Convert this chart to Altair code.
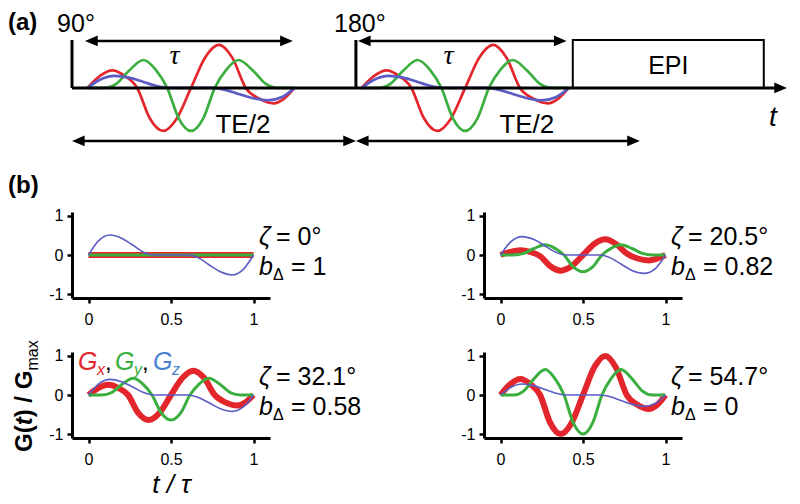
import altair as alt
import pandas as pd

SANS = "Liberation Sans"
SERIF = "Liberation Serif"
RED, GREEN, BLUE, BLUE_TXT = "#e3262b", "#3aae3f", "#5b5cc4", "#4a7fd3"

# ---------------- gradient waveforms, G(t)/Gmax versus t/tau ----------------
T_RED = [0.0, 0.06, 0.12, 0.18, 0.24, 0.30, 0.365, 0.43, 0.50, 0.57, 0.635, 0.70, 0.765, 0.83, 0.90, 0.95, 1.0]
T_GREEN = [0.0, 0.08, 0.14, 0.20, 0.27, 0.33, 0.385, 0.44, 0.50, 0.56, 0.615, 0.67, 0.73, 0.80, 0.86, 0.92, 1.0]
T_BLUE = [0.0, 0.06, 0.13, 0.20, 0.27, 0.33, 0.40, 0.50, 0.60, 0.67, 0.73, 0.80, 0.87, 0.94, 1.0]

# zeta = 0 deg
GX_0 = [0, 0, 0, 0, 0, 0, 0, 0, 0, 0, 0, 0, 0, 0, 0, 0, 0]
GY_0 = [0, 0, 0, 0, 0, 0, 0, 0, 0, 0, 0, 0, 0, 0, 0, 0, 0]
GZ_0 = [0, 0.36, 0.51, 0.43, 0.25, 0.08, 0.0, 0.0, 0.0, -0.08, -0.25, -0.43, -0.51, -0.36, 0]
# zeta = 20.5 deg
GX_205 = [0, 0.08, 0.12, 0.08, -0.03, -0.28, -0.40, -0.29, 0.0, 0.29, 0.40, 0.28, 0.04, -0.09, -0.14, -0.09, 0]
GY_205 = [0, 0.0, 0.04, 0.16, 0.26, 0.17, 0.0, -0.30, -0.43, -0.30, 0.0, 0.17, 0.26, 0.16, 0.04, 0.0, 0]
GZ_205 = [0, 0.33, 0.47, 0.40, 0.23, 0.08, 0.0, 0.0, 0.0, -0.08, -0.23, -0.40, -0.47, -0.34, 0]
# zeta = 32.1 deg
GX_321 = [0, 0.18, 0.26, 0.18, 0.0, -0.45, -0.64, -0.46, 0.0, 0.44, 0.62, 0.44, 0.0, -0.19, -0.27, -0.19, 0]
GY_321 = [0, 0.0, 0.06, 0.26, 0.43, 0.28, 0.0, -0.45, -0.64, -0.45, 0.0, 0.28, 0.43, 0.26, 0.06, 0.0, 0]
GZ_321 = [0, 0.28, 0.40, 0.34, 0.20, 0.07, 0.0, 0.0, 0.0, -0.07, -0.20, -0.35, -0.42, -0.30, 0]
# zeta = 54.7 deg (also the waveform drawn in panel a)
GX_547 = [0, 0.28, 0.41, 0.28, 0.0, -0.70, -1.0, -0.72, 0.0, 0.72, 1.0, 0.70, 0.0, -0.25, -0.36, -0.25, 0]
GY_547 = [0, 0.0, 0.10, 0.40, 0.65, 0.42, 0.0, -0.70, -1.0, -0.70, 0.0, 0.42, 0.65, 0.40, 0.10, 0.0, 0]
GZ_547 = [0, 0.19, 0.28, 0.24, 0.14, 0.05, 0.0, 0.0, 0.0, -0.05, -0.14, -0.24, -0.29, -0.21, 0]

ZETA_TEXT = ["0°", "20.5°", "32.1°", "54.7°"]
BDELTA_TEXT = ["1", "0.82", "0.58", "0"]
PANEL_WAVES = [(GX_0, GY_0, GZ_0), (GX_205, GY_205, GZ_205),
               (GX_321, GY_321, GZ_321), (GX_547, GY_547, GZ_547)]

SERIES = ["Gx", "Gy", "Gz"]
SERIES_T = [T_RED, T_GREEN, T_BLUE]
SERIES_COLOR = [RED, GREEN, BLUE]
SUB_WIDTH = [6, 3, 1.6]

# ---------------- sequence timing for panel (a), in units of tau ----------------
PULSE_T = [0.0, 1.372]
PULSE_LABEL = ["90°", "180°"]
GRAD_START = [0.075, 1.40]
EPI_T = [2.42, 3.343]
AXIS_END = 3.455
TE_HALF = PULSE_T[1] - PULSE_T[0]

# ---------------- helpers ----------------
def txt(s, x, y, size=24, style="normal", weight="normal", color="black",
        align="left", baseline="alphabetic", angle=0, font=SANS):
    return alt.Chart(pd.DataFrame({"s": [s]})).mark_text(
        align=align, baseline=baseline, fontSize=size, fontStyle=style,
        fontWeight=weight, color=color, font=font, angle=angle
    ).encode(x=alt.value(x), y=alt.value(y), text="s:N")


# ---------------- panel (a) ----------------
rows = []
for k, s in enumerate(GRAD_START):
    for name, T, V in zip(SERIES, SERIES_T, PANEL_WAVES[3]):
        for t, v in zip(T, V):
            rows.append({"x": s + t, "v": v, "series": name, "copy": k})
df_a = pd.DataFrame(rows)

XA = alt.Scale(domain=[0, 3.46], nice=False, zero=False)
YA = alt.Scale(domain=[-1.63, 1.86], nice=False, zero=False)

def ax(field):
    return alt.X(field, scale=XA, axis=None)

def ay(field):
    return alt.Y(field, scale=YA, axis=None)

Y_TOP = 1.116
Y_TAU = 1.093
Y_TE = -1.233

layers_a = []
for name, color in zip(SERIES, SERIES_COLOR):
    layers_a.append(
        alt.Chart(df_a[df_a.series == name]).mark_line(
            interpolate="monotone", strokeWidth=2.7, color=color
        ).encode(x=ax("x:Q"), y=ay("v:Q"), detail="copy:N")
    )

pulses = pd.DataFrame({"t": PULSE_T, "label": PULSE_LABEL, "y0": 0.0, "y1": Y_TOP, "ly": 1.477})
layers_a.append(alt.Chart(pulses).mark_rule(color="black", strokeWidth=3).encode(
    x=ax("t:Q"), y=ay("y0:Q"), y2="y1:Q"))
layers_a.append(alt.Chart(pulses).mark_text(fontSize=25, font=SANS, baseline="middle", align="center", dx=4).encode(
    x=ax("t:Q"), y=ay("ly:Q"), text="label:N"))

epi = pd.DataFrame({"x0": [EPI_T[0]], "x1": [EPI_T[1]], "y0": [0.0], "y1": [Y_TOP],
                    "xm": [(EPI_T[0] + EPI_T[1]) / 2], "ym": [0.5], "label": ["EPI"]})
layers_a.append(alt.Chart(epi).mark_rect(fillOpacity=0, stroke="black", strokeWidth=2).encode(
    x=ax("x0:Q"), x2="x1:Q", y=ay("y0:Q"), y2="y1:Q"))
layers_a.append(alt.Chart(epi).mark_text(fontSize=25, font=SANS, baseline="middle", align="center").encode(
    x=ax("xm:Q"), y=ay("ym:Q"), text="label:N"))

# arrows: (start, end, y, head at start, head at end)
segs = [
    (GRAD_START[0] - 0.012, GRAD_START[0] + 1 - 0.008, Y_TAU, True, True),
    (GRAD_START[1] - 0.018, GRAD_START[1] + 1 - 0.01, Y_TAU, True, True),
    (PULSE_T[0], PULSE_T[1], Y_TE, True, True),
    (PULSE_T[1], PULSE_T[1] + TE_HALF, Y_TE, True, True),
]
HEAD = 0.03
shafts = pd.DataFrame([{"xs": a + (HEAD if h0 else 0), "xe": b - (HEAD if h1 else 0), "y": y}
                       for a, b, y, h0, h1 in segs])
lheads = pd.DataFrame([{"x": a, "y": y} for a, b, y, h0, h1 in segs if h0])
rheads = pd.DataFrame([{"x": b, "y": y} for a, b, y, h0, h1 in segs if h1] + [{"x": AXIS_END, "y": 0.0}])
layers_a.append(alt.Chart(shafts).mark_rule(color="black", strokeWidth=2.6).encode(
    x=ax("xs:Q"), x2="xe:Q", y=ay("y:Q")))
layers_a.append(alt.Chart(lheads).mark_point(shape="M0,0L2,-0.85L2,0.85Z", filled=True, size=160,
                                             opacity=1, color="black", strokeWidth=0).encode(
    x=ax("x:Q"), y=ay("y:Q")))
layers_a.append(alt.Chart(rheads).mark_point(shape="M0,0L-2,-0.85L-2,0.85Z", filled=True, size=160,
                                             opacity=1, color="black", strokeWidth=0).encode(
    x=ax("x:Q"), y=ay("y:Q")))
# time axis baseline
base = pd.DataFrame({"xs": [0.0], "xe": [AXIS_END - HEAD], "y": [0.0]})
layers_a.append(alt.Chart(base).mark_rule(color="black", strokeWidth=3).encode(
    x=ax("xs:Q"), x2="xe:Q", y=ay("y:Q")))

taus = pd.DataFrame({"x": [s + 0.42 for s in GRAD_START], "y": [0.744, 0.744], "label": ["τ", "τ"]})
layers_a.append(alt.Chart(taus).mark_text(fontSize=28, font=SERIF, fontStyle="italic", baseline="middle",
                                          align="center").encode(x=ax("x:Q"), y=ay("y:Q"), text="label:N"))
tes = pd.DataFrame({"x": [p + TE_HALF / 2 + 0.14 for p in PULSE_T], "y": [-0.86, -0.86], "label": ["TE/2", "TE/2"]})
layers_a.append(alt.Chart(tes).mark_text(fontSize=26, font=SANS, baseline="middle", align="center").encode(
    x=ax("x:Q"), y=ay("y:Q"), text="label:N"))
tl = pd.DataFrame({"x": [3.387], "y": [-0.69], "label": ["t"]})
layers_a.append(alt.Chart(tl).mark_text(fontSize=28, font=SANS, fontStyle="italic", baseline="middle",
                                        align="center").encode(x=ax("x:Q"), y=ay("y:Q"), text="label:N"))
layers_a.append(txt("(a)", -64, 22, size=24, weight="bold"))

panel_a = alt.layer(*layers_a).properties(width=716, height=150)

# ---------------- panel (b): four waveform plots ----------------
rows = []
for p, waves in enumerate(PANEL_WAVES):
    for name, T, V in zip(SERIES, SERIES_T, waves):
        for t, v in zip(T, V):
            rows.append({"panel": p, "series": name, "t": t, "v": v})
df_b = pd.DataFrame(rows)


def subplot(p):
    d = df_b[df_b.panel == p]
    xs = alt.Scale(domain=[-0.1, 1.1], nice=False, zero=False)
    ys = alt.Scale(domain=[-1.1, 1.1], nice=False, zero=False)
    if p == 2:
        xaxis = alt.Axis(values=[0, 0.5, 1], labelExpr="'' + datum.value",
                         title="t / τ", titleFontStyle="italic", titleFontSize=26,
                         titleFontWeight="normal", titlePadding=4)
    else:
        xaxis = alt.Axis(values=[0, 0.5, 1], labelExpr="'' + datum.value", title=None)
    yaxis = alt.Axis(values=[-1, 0, 1], labelExpr="'' + datum.value", title=None)
    layers = []
    for name, color, w in zip(SERIES, SERIES_COLOR, SUB_WIDTH):
        layers.append(alt.Chart(d[d.series == name]).mark_line(
            interpolate="monotone", strokeWidth=w, color=color
        ).encode(x=alt.X("t:Q", scale=xs, axis=xaxis), y=alt.Y("v:Q", scale=ys, axis=yaxis)))
    x0 = 187
    layers += [
        txt("ζ", x0, 33, style="italic", size=25),
        txt("= " + ZETA_TEXT[p], x0 + 17, 33, size=25),
        txt("b", x0, 63, style="italic", size=25),
        txt("Δ", x0 + 14, 68, size=16),
        txt("= " + BDELTA_TEXT[p], x0 + 32, 63, size=25),
    ]
    if p == 0:
        layers.append(txt("(b)", -64, -19, size=24, weight="bold"))
    if p == 2:
        # G_x, G_y, G_z legend
        layers += [
            txt("G", 6, 18, style="italic", color=RED, size=25),
            txt("x", 25, 23, style="italic", color=RED, size=16),
            txt(",", 33, 18, size=24),
            txt("G", 43, 18, style="italic", color=GREEN, size=25),
            txt("y", 62, 23, style="italic", color=GREEN, size=16),
            txt(",", 70, 18, size=24),
            txt("G", 81, 18, style="italic", color=BLUE_TXT, size=25),
            txt("z", 100, 23, style="italic", color=BLUE_TXT, size=16),
        ]
        # rotated y title: G(t) / G_max
        layers += [
            txt("G(", -40, 100, size=24, weight="bold", angle=270),
            txt("t", -40, 73.3, size=24, weight="bold", style="italic", angle=270),
            txt(") / G", -40, 65.3, size=24, weight="bold", angle=270),
            txt("max", -34, 18.6, size=16, angle=270),
        ]
    return alt.layer(*layers).properties(width=198, height=86)


spacer = alt.Chart(pd.DataFrame({"s": [""]})).mark_text().encode(text="s:N").properties(width=198, height=150)

col_left = alt.vconcat(panel_a, subplot(0), subplot(2), spacing=54, bounds="flush")
col_right = alt.vconcat(spacer, subplot(1), subplot(3), spacing=54, bounds="flush")

chart = alt.hconcat(col_left, col_right, spacing=412, bounds="flush", padding=0).configure_view(
    strokeWidth=0
).configure_axis(
    domainColor="black", domainWidth=3, tickColor="black", tickWidth=2.5, tickSize=5,
    labelFont=SANS, labelFontSize=16, labelColor="black", grid=False,
    titleFont=SANS, titleColor="black"
).configure_axisX(labelPadding=8).configure_axisY(labelPadding=4)

chart.save("out.html", embed_options={"renderer": "svg", "actions": False})
